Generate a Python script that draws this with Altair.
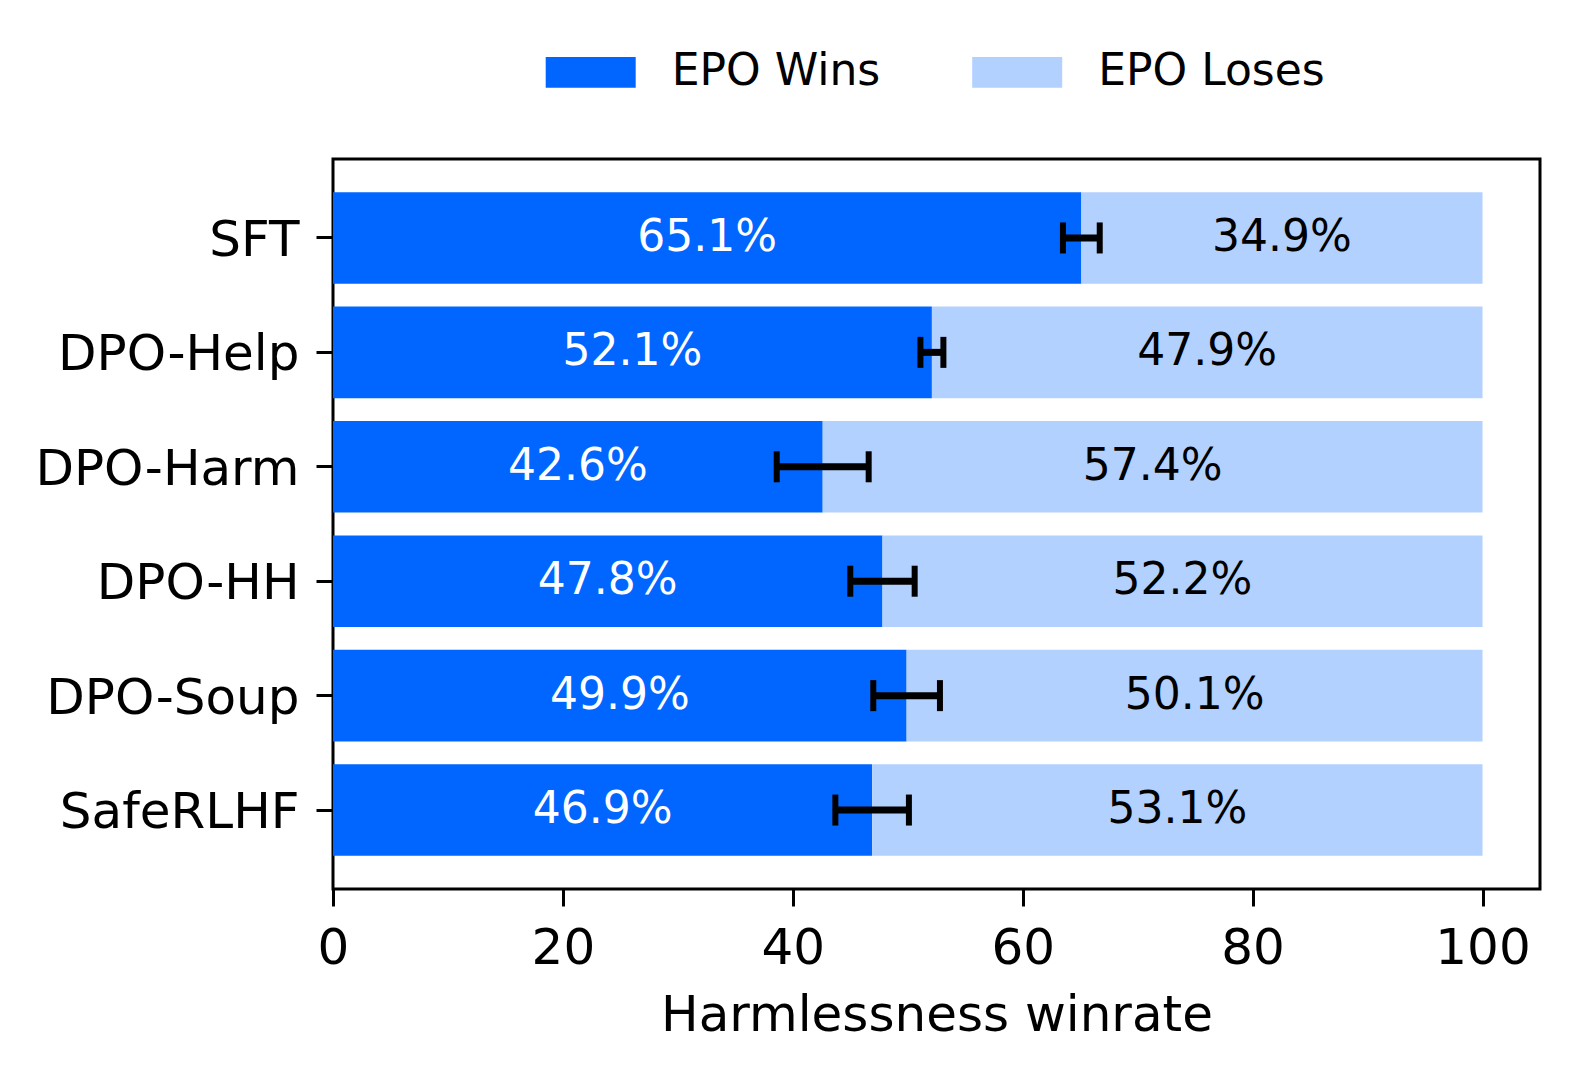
import altair as alt
import pandas as pd

models = ["SFT", "DPO-Help", "DPO-Harm", "DPO-HH", "DPO-Soup", "SafeRLHF"]
wins = [65.1, 52.1, 42.6, 47.8, 49.9, 46.9]
loses = [34.9, 47.9, 57.4, 52.2, 50.1, 53.1]
err = [1.6, 1.0, 4.0, 2.8, 2.9, 3.2]
outcomes = ["EPO Wins", "EPO Loses"]
colors = ["#0066ff", "#b3d1ff"]
x_ticks = [0, 20, 40, 60, 80, 100]

rows = []
for m, w, l in zip(models, wins, loses):
    rows.append({"model": m, "outcome": "EPO Wins", "start": 0.0, "end": w,
                 "mid": w / 2, "label": f"{w:.1f}%"})
    rows.append({"model": m, "outcome": "EPO Loses", "start": w, "end": w + l,
                 "mid": w + l / 2, "label": f"{l:.1f}%"})
bars_df = pd.DataFrame(rows)

err_df = pd.DataFrame({
    "model": models,
    "lo": [w - e for w, e in zip(wins, err)],
    "hi": [w + e for w, e in zip(wins, err)],
})
caps_df = pd.DataFrame({
    "model": models + models,
    "x": [w - e for w, e in zip(wins, err)] + [w + e for w, e in zip(wins, err)],
})

FONT = "DejaVu Sans"

y_enc = alt.Y("model:N", sort=models, title=None,
              scale=alt.Scale(domain=models, paddingInner=0.2, paddingOuter=0.29))
x_scale = alt.Scale(domain=[0, 105], nice=False, zero=False)

bars = alt.Chart(bars_df).mark_bar(strokeWidth=0).encode(
    x=alt.X("start:Q", scale=x_scale,
            axis=alt.Axis(values=x_ticks, title="Harmlessness winrate",
                          titleBaseline="alphabetic", titleY=141)),
    x2="end:Q",
    y=y_enc,
    color=alt.Color("outcome:N", sort=outcomes,
                    scale=alt.Scale(domain=outcomes, range=colors),
                    legend=alt.Legend(
                        title=None, orient="none", legendX=212.7, legendY=-131.6,
                        direction="horizontal", columns=2, columnPadding=91.5,
                        symbolType="M-1,-0.34L1,-0.34L1,0.34L-1,0.34Z",
                        symbolSize=8100, symbolStrokeWidth=0, symbolOpacity=1,
                        labelOffset=36, labelFontSize=44, labelFont=FONT,
                        labelColor="black", labelLimit=1000, padding=0)),
)

labels = alt.Chart(bars_df).mark_text(fontSize=44, font=FONT, baseline="middle",
                                      align="center").encode(
    x=alt.X("mid:Q", scale=x_scale),
    y=y_enc,
    text="label:N",
    color=alt.condition(alt.datum.outcome == "EPO Wins", alt.value("white"),
                        alt.value("black")),
)

err_rule = alt.Chart(err_df).mark_rule(color="black", strokeWidth=7).encode(
    x=alt.X("lo:Q", scale=x_scale),
    x2="hi:Q",
    y=y_enc,
)

err_caps = alt.Chart(caps_df).mark_tick(color="black", orient="vertical",
                                        size=31, thickness=6, opacity=1).encode(
    x=alt.X("x:Q", scale=x_scale),
    y=y_enc,
)

chart = alt.layer(bars, labels, err_rule, err_caps).properties(
    width=1207, height=730,
    autosize=alt.AutoSizeParams(type="none"),
    padding={"left": 325, "top": 151, "right": 20, "bottom": 170},
).configure_view(
    stroke="black", strokeWidth=3
).configure_axis(
    domain=False, grid=False, ticks=True, tickColor="black", tickWidth=3,
    tickSize=17, labelFont=FONT, labelFontSize=50, labelColor="black",
    labelPadding=17, labelFlush=False, labelLimit=1000, labelOverlap=False,
    titleFont=FONT, titleFontSize=50, titleColor="black",
    titleFontWeight="normal",
).configure_axisY(
    labelOffset=3
)

chart.save("out.html", embed_options={"renderer": "svg", "actions": False})
